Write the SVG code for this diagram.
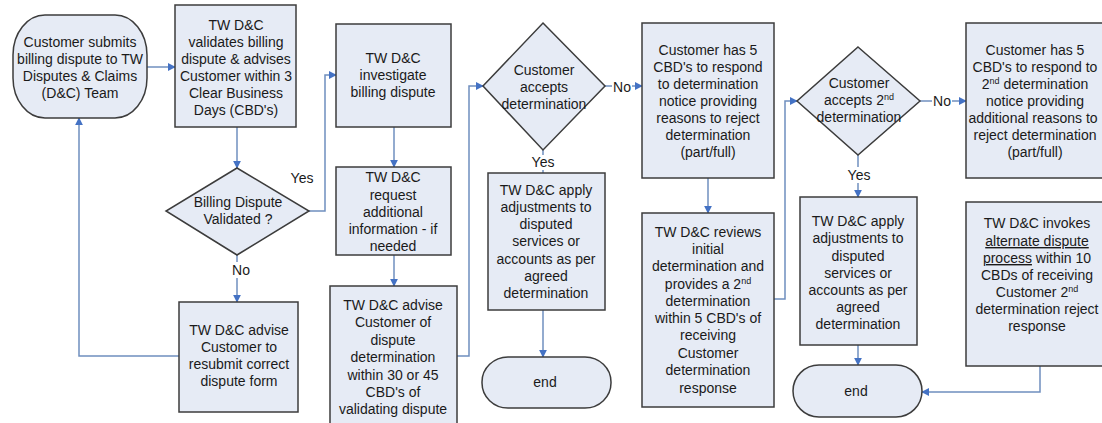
<svg xmlns="http://www.w3.org/2000/svg" width="1102" height="423" viewBox="0 0 1102 423">
<style>
.n{fill:#e6ebf5;stroke:#3c3c3c;stroke-width:1.5}
.t{font-family:"Liberation Sans",Arial,sans-serif;font-size:14px;fill:#1a1a1a;text-anchor:middle}
.sup{font-size:9px}
.c{fill:none;stroke:#6f8fbf;stroke-width:1.5}
.lb{fill:#fff}
</style>
<defs>
<marker id="ah" viewBox="0 0 10 10" refX="9" refY="5" markerWidth="8" markerHeight="8" markerUnits="userSpaceOnUse" orient="auto">
<path d="M0,0 L10,5 L0,10 z" fill="#4472c4"/>
</marker>
</defs>
<rect width="1102" height="423" fill="#fff"/>

<g id="connectors">
<path class="c" d="M147,67 H175" marker-end="url(#ah)"/>
<path class="c" d="M237,127 V168" marker-end="url(#ah)"/>
<path class="c" d="M309,211 H325 V75 H336" marker-end="url(#ah)"/>
<path class="c" d="M237,255 V302" marker-end="url(#ah)"/>
<path class="c" d="M179,356 H79 V118" marker-end="url(#ah)"/>
<path class="c" d="M394,127 V167" marker-end="url(#ah)"/>
<path class="c" d="M394,255 V286" marker-end="url(#ah)"/>
<path class="c" d="M457,356 H469 V86 H483" marker-end="url(#ah)"/>
<path class="c" d="M605,86 H642" marker-end="url(#ah)"/>
<path class="c" d="M543,150 V173"/>
<path class="c" d="M543,310 V357" marker-end="url(#ah)"/>
<path class="c" d="M708,178 V213" marker-end="url(#ah)"/>
<path class="c" d="M774,299 H785 V101 H797" marker-end="url(#ah)"/>
<path class="c" d="M920,101 H966" marker-end="url(#ah)"/>
<path class="c" d="M858,155 V197" marker-end="url(#ah)"/>
<path class="c" d="M858,345 V365" marker-end="url(#ah)"/>
<path class="c" d="M1040,366 V392 H922" marker-end="url(#ah)"/>
<rect class="lb" x="288" y="170" width="28" height="16"/>
<text class="t" x="302" y="183">Yes</text>
<rect class="lb" x="230" y="262" width="20" height="16"/>
<text class="t" x="241" y="275">No</text>
<rect class="lb" x="612" y="79" width="20" height="16"/>
<text class="t" x="622" y="92">No</text>
<rect class="lb" x="530" y="155" width="28" height="15"/>
<text class="t" x="543" y="167">Yes</text>
<rect class="lb" x="932" y="93" width="20" height="16"/>
<text class="t" x="942" y="106">No</text>
<rect class="lb" x="845" y="167" width="28" height="16"/>
<text class="t" x="859" y="180">Yes</text>
</g>

<g id="n1">
<rect class="n" x="13" y="15" width="134" height="103" rx="32" ry="40"/>
<text class="t" x="80"><tspan x="80" y="47">Customer submits</tspan><tspan x="80" y="64">billing dispute to TW</tspan><tspan x="80" y="81">Disputes &amp; Claims</tspan><tspan x="80" y="98">(D&amp;C) Team</tspan></text>
</g>

<g id="n2">
<rect class="n" x="175" y="5" width="121" height="122"/>
<text class="t"><tspan x="236" y="30">TW D&amp;C</tspan><tspan x="236" y="47">validates billing</tspan><tspan x="236" y="64">dispute &amp; advises</tspan><tspan x="236" y="81">Customer within 3</tspan><tspan x="236" y="98">Clear Business</tspan><tspan x="236" y="115">Days (CBD's)</tspan></text>
</g>

<g id="d1">
<polygon class="n" points="237,168 309,211 237,255 166,211"/>
<text class="t"><tspan x="238" y="207">Billing Dispute</tspan><tspan x="238" y="224">Validated ?</tspan></text>
</g>

<g id="n_resubmit">
<rect class="n" x="179" y="302" width="119" height="110"/>
<text class="t"><tspan x="239" y="335">TW D&amp;C advise</tspan><tspan x="239" y="352">Customer to</tspan><tspan x="239" y="369">resubmit correct</tspan><tspan x="239" y="386">dispute form</tspan></text>
</g>

<g id="n3">
<rect class="n" x="336" y="24" width="115" height="103"/>
<text class="t"><tspan x="393" y="63">TW D&amp;C</tspan><tspan x="393" y="80">investigate</tspan><tspan x="393" y="97">billing dispute</tspan></text>
</g>

<g id="n4">
<rect class="n" x="336" y="167" width="115" height="88"/>
<text class="t"><tspan x="393" y="182">TW D&amp;C</tspan><tspan x="393" y="200">request</tspan><tspan x="393" y="217">additional</tspan><tspan x="393" y="234">information - if</tspan><tspan x="393" y="251">needed</tspan></text>
</g>

<g id="n5">
<rect class="n" x="330" y="286" width="127" height="145"/>
<text class="t"><tspan x="393" y="310">TW D&amp;C advise</tspan><tspan x="393" y="327">Customer of</tspan><tspan x="393" y="345">dispute</tspan><tspan x="393" y="362">determination</tspan><tspan x="393" y="380">within 30 or 45</tspan><tspan x="393" y="397">CBD's of</tspan><tspan x="393" y="414">validating dispute</tspan></text>
</g>

<g id="d2">
<polygon class="n" points="543,23 605,86 543,150 483,86"/>
<text class="t"><tspan x="544" y="75">Customer</tspan><tspan x="544" y="92">accepts</tspan><tspan x="544" y="109">determination</tspan></text>
</g>

<g id="n_apply1">
<rect class="n" x="488" y="173" width="117" height="137"/>
<text class="t"><tspan x="546" y="195">TW D&amp;C apply</tspan><tspan x="546" y="212">adjustments to</tspan><tspan x="546" y="229">disputed</tspan><tspan x="546" y="246">services or</tspan><tspan x="546" y="264">accounts as per</tspan><tspan x="546" y="281">agreed</tspan><tspan x="546" y="298">determination</tspan></text>
</g>

<g id="end1">
<rect class="n" x="482" y="357" width="129" height="51" rx="26" ry="25"/>
<text class="t" x="545" y="387">end</text>
</g>

<g id="n7">
<rect class="n" x="642" y="23" width="132" height="155"/>
<text class="t"><tspan x="708" y="55">Customer has 5</tspan><tspan x="708" y="72">CBD's to respond</tspan><tspan x="708" y="89">to determination</tspan><tspan x="708" y="106">notice providing</tspan><tspan x="708" y="123">reasons to reject</tspan><tspan x="708" y="140">determination</tspan><tspan x="708" y="157">(part/full)</tspan></text>
</g>

<g id="n_reviews">
<rect class="n" x="642" y="213" width="132" height="194"/>
<text class="t"><tspan x="708" y="237">TW D&amp;C reviews</tspan><tspan x="708" y="254">initial</tspan><tspan x="708" y="271">determination and</tspan><tspan x="708" y="289">provides a 2<tspan class="sup" dy="-5">nd</tspan></tspan><tspan x="708" y="306">determination</tspan><tspan x="708" y="323">within 5 CBD's of</tspan><tspan x="708" y="340">receiving</tspan><tspan x="708" y="358">Customer</tspan><tspan x="708" y="375">determination</tspan><tspan x="708" y="393">response</tspan></text>
</g>

<g id="d3">
<polygon class="n" points="858,47 920,101 858,155 797,101"/>
<text class="t"><tspan x="859" y="88">Customer</tspan><tspan x="859" y="105">accepts 2<tspan class="sup" dy="-5">nd</tspan></tspan><tspan x="859" y="122">determination</tspan></text>
</g>

<g id="n_apply2">
<rect class="n" x="800" y="197" width="117" height="148"/>
<text class="t"><tspan x="858" y="226">TW D&amp;C apply</tspan><tspan x="858" y="243">adjustments to</tspan><tspan x="858" y="261">disputed</tspan><tspan x="858" y="278">services or</tspan><tspan x="858" y="295">accounts as per</tspan><tspan x="858" y="312">agreed</tspan><tspan x="858" y="329">determination</tspan></text>
</g>

<g id="end2">
<rect class="n" x="793" y="365" width="129" height="52" rx="26" ry="26"/>
<text class="t" x="856" y="396">end</text>
</g>

<g id="n9">
<rect class="n" x="966" y="23" width="150" height="155"/>
<text class="t"><tspan x="1035" y="55">Customer has 5</tspan><tspan x="1035" y="72">CBD's to respond to</tspan><tspan x="1035" y="89">2<tspan class="sup" dy="-5">nd</tspan><tspan dy="5"> determination</tspan></tspan><tspan x="1035" y="106">notice providing</tspan><tspan x="1033" y="123">additional reasons to</tspan><tspan x="1035" y="140">reject determination</tspan><tspan x="1035" y="157">(part/full)</tspan></text>
</g>

<g id="n_invokes">
<rect class="n" x="966" y="202" width="150" height="164"/>
<text class="t"><tspan x="1037" y="228">TW D&amp;C invokes</tspan><tspan x="1037" y="246" text-decoration="underline">alternate dispute</tspan><tspan x="1037" y="263"><tspan text-decoration="underline">process</tspan> within 10</tspan><tspan x="1037" y="280">CBDs of receiving</tspan><tspan x="1037" y="297">Customer 2<tspan class="sup" dy="-5">nd</tspan></tspan><tspan x="1037" y="314">determination reject</tspan><tspan x="1037" y="331">response</tspan></text>
</g>
</svg>
